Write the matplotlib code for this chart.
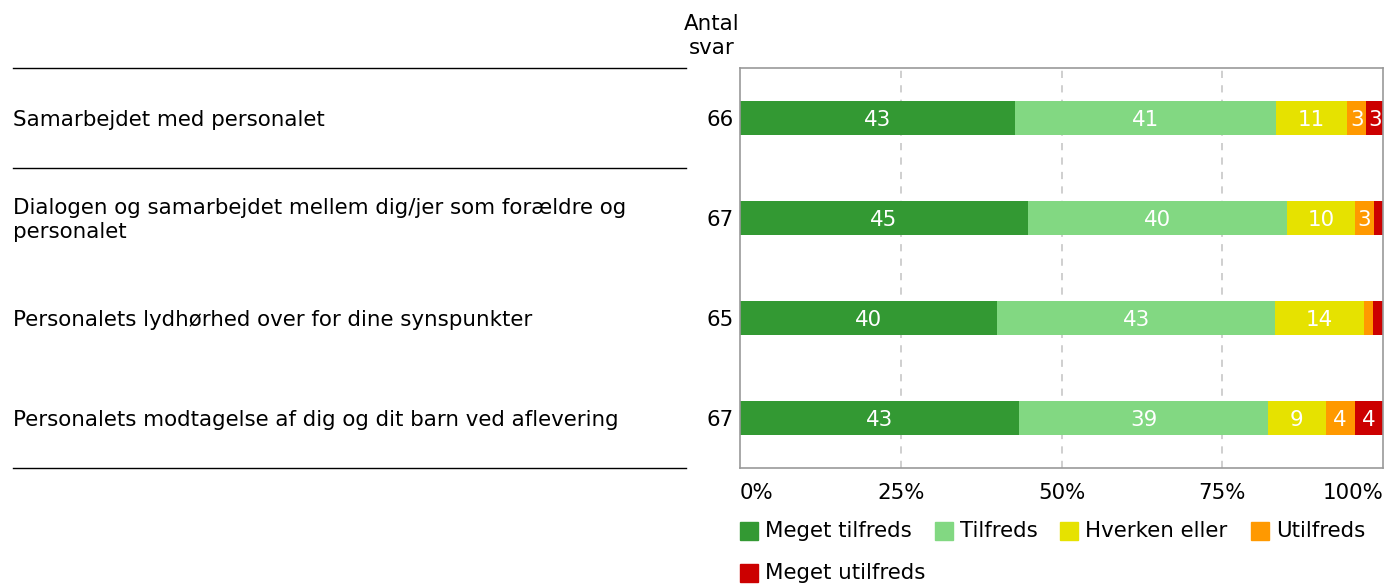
import matplotlib
matplotlib.use("Agg")
import matplotlib.pyplot as plt
import matplotlib.transforms as mtransforms
from matplotlib.patches import Rectangle
import numpy as np

questions = [
    "Samarbejdet med personalet",
    "Dialogen og samarbejdet mellem dig/jer som forældre og\npersonalet",
    "Personalets lydhørhed over for dine synspunkter",
    "Personalets modtagelse af dig og dit barn ved aflevering",
]
n_answers = [66, 67, 65, 67]

categories = ["Meget tilfreds", "Tilfreds", "Hverken eller", "Utilfreds", "Meget utilfreds"]
colors = ["#339933", "#82d882", "#e6e200", "#ff9900", "#cc0000"]

meget_tilfreds = [42.8, 44.8, 40.0, 43.4]
tilfreds = [40.6, 40.3, 43.2, 38.7]
hverken = [11.0, 10.5, 13.8, 9.0]
utilfreds = [3.0, 3.0, 1.5, 4.5]
meget_utilfreds = [2.6, 1.4, 1.5, 4.4]
series = [meget_tilfreds, tilfreds, hverken, utilfreds, meget_utilfreds]

tick_vals = [0, 25, 50, 75, 100]
tick_labels = ["0%", "25%", "50%", "75%", "100%"]

FS = 15.4
W, H = 1384, 586
fig = plt.figure(figsize=(W / 100, H / 100), dpi=100)
ax = fig.add_axes([740 / W, 1 - 468 / H, 643 / W, 400 / H])

y = np.arange(len(questions))
left = np.zeros(len(questions))
for vals, col, cat in zip(series, colors, categories):
    vals = np.array(vals)
    ax.barh(y, vals, left=left, height=0.34, color=col, label=cat, zorder=2)
    for yi, l, v in zip(y, left, vals):
        if v >= 2:
            ax.text(l + v / 2, yi + 0.02, f"{v:.0f}", ha="center", va="center",
                    color="white", fontsize=FS, zorder=3)
    left += vals

ax.set_xlim(0, 100)
ax.set_ylim(len(questions) - 0.5, -0.5)
ax.set_yticks([])
ax.set_xticks(tick_vals)
ax.set_xticklabels(tick_labels, fontsize=FS)
ax.tick_params(axis="x", length=0, pad=11)
labels = ax.get_xticklabels()
labels[0].set_ha("left")
labels[-1].set_ha("right")
for x in tick_vals[1:-1]:
    ax.axvline(x, color="#cccccc", linestyle=(0, (4, 4)), linewidth=1.3, zorder=1)
for sp in ax.spines.values():
    sp.set_color("#999999")
    sp.set_linewidth(1.2)

# question labels and counts on the left
trans = mtransforms.blended_transform_factory(fig.transFigure, ax.transData)
for yi, q, n in zip(y, questions, n_answers):
    ax.text(13 / W, yi + 0.02, q, transform=trans, ha="left", va="center",
            fontsize=FS, clip_on=False)
    ax.text(734 / W, yi + 0.02, str(n), transform=trans, ha="right", va="center",
            fontsize=FS, clip_on=False)
for yl in [-0.5, 0.5, 3.5]:
    ax.plot([13 / W, 686 / W], [yl, yl], transform=trans, color="black",
            linewidth=1.0, clip_on=False)

fig.text(712 / W, 1 - 36 / H, "Antal\nsvar", ha="center", va="center", fontsize=FS)

# legend
leg_pos = [(740, 531), (935, 531), (1060, 531), (1251, 531), (740, 573)]
for (lx, ly), cat, col in zip(leg_pos, categories, colors):
    fig.patches.append(Rectangle((lx / W, 1 - (ly + 9) / H), 18 / W, 18 / H,
                                 transform=fig.transFigure, color=col))
    fig.text((lx + 25) / W, 1 - ly / H, cat, ha="left", va="center", fontsize=FS)

fig.savefig("out.png", dpi=100, facecolor="white")
